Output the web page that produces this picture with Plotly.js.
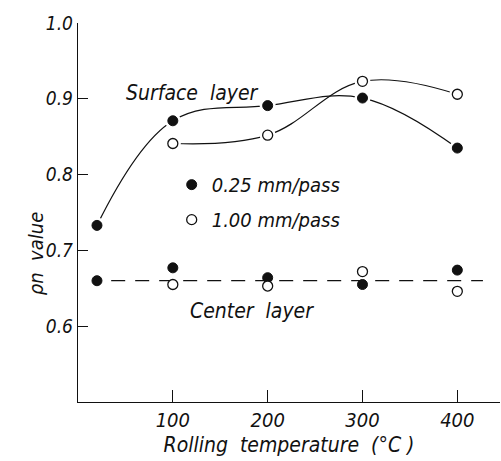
<!DOCTYPE html>
<html>
<head>
<meta charset="utf-8">
<script src="https://cdn.plot.ly/plotly-3.0.1.min.js"></script>
<style>html,body{margin:0;padding:0;background:#fff;}#chart{width:501px;height:461px;}</style>
</head>
<body>
<div id="chart"></div>
<script>
// Data
const temps = [20, 100, 200, 300, 400];
const tempsOpen = [100, 200, 300, 400];
const surface025 = [0.733, 0.871, 0.891, 0.901, 0.835];
const surface100 = [0.841, 0.852, 0.923, 0.906];
const center025 = [0.660, 0.677, 0.664, 0.655, 0.674];
const center100 = [0.655, 0.653, 0.672, 0.646];
const centerLineX = [35, 427];
const centerLineY = [0.66, 0.66];
const xTickVals = [100, 200, 300, 400];
const xTickText = ['100', '200', '300', '400'];
const yTickVals = [0.6, 0.7, 0.8, 0.9, 1.0];
const yTickText = ['0.6', '0.7', '0.8', '0.9', '1.0'];

const FONT = 'Liberation Sans Narrow, DejaVu Sans Condensed, Liberation Sans, Arial, sans-serif';
const ink = '#111';

const lineStyle = {color: ink, width: 1.2, shape: 'spline', smoothing: 1.1};

const traces = [
  // curves
  {x: temps, y: surface025, mode: 'lines', line: lineStyle, showlegend: false, hoverinfo: 'skip'},
  {x: tempsOpen, y: surface100, mode: 'lines', line: lineStyle, showlegend: false, hoverinfo: 'skip'},
  {x: centerLineX, y: centerLineY, mode: 'lines', line: {color: ink, width: 1.2, dash: '14px,10px'}, showlegend: false, hoverinfo: 'skip'},
  // white halos so curves stop short of the markers
  {x: temps, y: surface025, mode: 'markers', marker: {size: 16, color: '#fff'}, showlegend: false, hoverinfo: 'skip'},
  {x: tempsOpen, y: surface100, mode: 'markers', marker: {size: 16, color: '#fff'}, showlegend: false, hoverinfo: 'skip'},
  // markers
  {x: temps, y: surface025, mode: 'markers', name: '0.25 mm/pass', legendgroup: 'a',
   marker: {size: 10, color: ink, line: {color: ink, width: 1}}},
  {x: temps, y: center025, mode: 'markers', name: '0.25 mm/pass', legendgroup: 'a', showlegend: false,
   marker: {size: 10, color: ink, line: {color: ink, width: 1}}},
  {x: tempsOpen, y: surface100, mode: 'markers', name: '1.00 mm/pass', legendgroup: 'b',
   marker: {size: 10, color: '#fff', line: {color: ink, width: 1.3}}},
  {x: tempsOpen, y: center100, mode: 'markers', name: '1.00 mm/pass', legendgroup: 'b', showlegend: false,
   marker: {size: 10, color: '#fff', line: {color: ink, width: 1.3}}}
];

const layout = {
  width: 501, height: 461,
  margin: {l: 78, r: 1, t: 23, b: 59},
  paper_bgcolor: '#fff', plot_bgcolor: '#fff',
  font: {family: FONT, color: ink, size: 19, style: 'italic'},
  showlegend: true,
  legend: {x: 0.222, y: 0.625, xanchor: 'left', yanchor: 'top', bgcolor: 'rgba(0,0,0,0)',
           font: {family: FONT, size: 20, style: 'italic', color: ink}, tracegroupgap: 6},
  xaxis: {
    range: [0, 445], showgrid: false, zeroline: false, showline: true, linecolor: ink, linewidth: 1.2,
    ticks: 'inside', ticklen: 12, tickwidth: 1.2, tickcolor: ink,
    tickvals: xTickVals, ticktext: xTickText,
    tickfont: {family: FONT, size: 20, style: 'italic', color: ink},
    title: {text: 'Rolling\u00a0 temperature\u00a0 (°C\u00a0)', font: {family: FONT, size: 21, style: 'italic', color: ink}, standoff: 6}
  },
  yaxis: {
    range: [0.5, 1.0], showgrid: false, zeroline: false, showline: true, linecolor: ink, linewidth: 1.2,
    ticks: 'inside', ticklen: 10, tickwidth: 1.2, tickcolor: ink,
    tickvals: yTickVals, ticktext: yTickText,
    tickfont: {family: FONT, size: 19, style: 'italic', color: ink}
  },
  annotations: [
    {xref: 'paper', yref: 'paper', x: -0.1327, y: 0.39, text: 'ρn\u00a0 value', textangle: -90, showarrow: false,
     font: {family: FONT, size: 20, style: 'italic', color: ink}},
    {xref: 'x', yref: 'y', x: 121, y: 0.908, text: 'Surface\u00a0 layer', showarrow: false,
     font: {family: FONT, size: 21, style: 'italic', color: ink}},
    {xref: 'x', yref: 'y', x: 183, y: 0.620, text: 'Center\u00a0 layer', showarrow: false,
     font: {family: FONT, size: 21, style: 'italic', color: ink}}
  ]
};

Plotly.newPlot('chart', traces, layout, {displayModeBar: false, staticPlot: true});
</script>
</body>
</html>
